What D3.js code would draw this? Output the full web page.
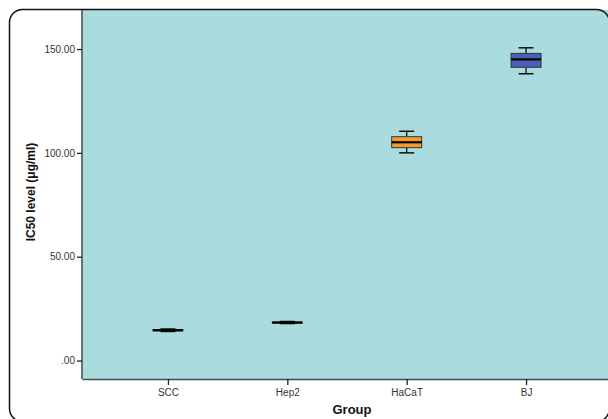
<!DOCTYPE html>
<html>
<head>
<meta charset="utf-8">
<script src="https://cdn.jsdelivr.net/npm/d3@7"></script>
<style>
  body { margin: 0; background: #fff; }
  svg { display: block; font-family: Arial, "Liberation Sans", sans-serif; }
</style>
</head>
<body>
<svg id="chart"></svg>
<script>
const groups = ["SCC", "Hep2", "HaCaT", "BJ"];
const mins = [14.0, 17.8, 100.0, 138.1];
const q1s = [14.3, 18.0, 102.5, 141.2];
const medians = [14.6, 18.3, 105.1, 145.0];
const q3s = [14.9, 18.5, 107.8, 147.9];
const maxs = [15.2, 18.8, 110.4, 150.6];
const boxColors = ["#f4a13a", "#f4a13a", "#f59b2c", "#4a60b4"];
const yTicks = [0, 50, 100, 150];

const w = 608;
const h = 419;
const plotLeft = 82, plotRight = 612, plotTop = 10, plotBottom = 379;

const svg = d3.select("#chart").attr("width", w).attr("height", h);

const xScale = d3.scalePoint().domain(groups).range([plotLeft, plotRight]).padding(0.72);
const yScale = d3.scaleLinear().domain([-8.9, 168.8]).range([plotBottom, plotTop]);

// plot background
svg.append("rect")
  .attr("x", plotLeft).attr("y", plotTop)
  .attr("width", plotRight - plotLeft).attr("height", plotBottom - plotTop)
  .attr("fill", "#aadbde");

// axes
const yAxis = d3.axisLeft(yScale).tickValues(yTicks).tickSize(5).tickFormat((d) => d === 0 ? ".00" : d3.format(".2f")(d));
const xAxis = d3.axisBottom(xScale).tickSize(6).tickSizeOuter(0);

const gy = svg.append("g").attr("transform", `translate(${plotLeft},0)`).call(yAxis);
const gx = svg.append("g").attr("transform", `translate(0,${plotBottom})`).call(xAxis);

[gx, gy].forEach((g) => {
  g.select(".domain").attr("stroke", "#3d4f50").attr("stroke-width", 1.5);
  g.selectAll(".tick line").attr("stroke", "#222").attr("stroke-width", 1.3);
  g.selectAll(".tick text").attr("fill", "#333").attr("font-size", 10).attr("font-family", "Arial, 'Liberation Sans', sans-serif");
});
gy.select(".domain").attr("d", `M0,${plotTop}V${plotBottom}`);
gy.selectAll(".tick text").attr("x", -7);
gx.selectAll(".tick text").attr("y", 10);

// boxplots
const boxW = 30, capW = 15;
const data = groups.map((g, i) => ({ g, min: mins[i], q1: q1s[i], med: medians[i], q3: q3s[i], max: maxs[i], color: boxColors[i] }));

const box = svg.selectAll(".box").data(data).enter().append("g").attr("class", "box");

box.append("line")
  .attr("x1", (d) => xScale(d.g)).attr("x2", (d) => xScale(d.g))
  .attr("y1", (d) => yScale(d.max)).attr("y2", (d) => yScale(d.min))
  .attr("stroke", "#111").attr("stroke-width", 1.3);

box.append("rect")
  .attr("x", (d) => xScale(d.g) - boxW / 2)
  .attr("y", (d) => yScale(d.q3))
  .attr("width", boxW)
  .attr("height", (d) => yScale(d.q1) - yScale(d.q3))
  .attr("fill", (d) => d.color)
  .attr("stroke", "#2b3a3a").attr("stroke-width", 1);

["min", "max"].forEach((k) => {
  box.append("line")
    .attr("x1", (d) => xScale(d.g) - capW / 2).attr("x2", (d) => xScale(d.g) + capW / 2)
    .attr("y1", (d) => yScale(d[k])).attr("y2", (d) => yScale(d[k]))
    .attr("stroke", "#111").attr("stroke-width", 1.5);
});

box.append("line")
  .attr("x1", (d) => xScale(d.g) - boxW / 2).attr("x2", (d) => xScale(d.g) + boxW / 2)
  .attr("y1", (d) => yScale(d.med)).attr("y2", (d) => yScale(d.med))
  .attr("stroke", "#000").attr("stroke-width", 2.2);

// axis titles
svg.append("text")
  .attr("transform", `translate(35,192) rotate(-90)`)
  .attr("text-anchor", "middle")
  .attr("font-size", 12).attr("font-weight", "bold").attr("fill", "#111")
  .text("IC50 level (μg/ml)");

svg.append("text")
  .attr("x", 352).attr("y", 414)
  .attr("text-anchor", "middle")
  .attr("font-size", 13).attr("font-weight", "bold").attr("fill", "#111")
  .text("Group");

// rounded frame, drawn over the plot
svg.append("rect")
  .attr("x", 9.5).attr("y", 9.5)
  .attr("width", 600).attr("height", 412)
  .attr("rx", 13).attr("ry", 13)
  .attr("fill", "none").attr("stroke", "#111").attr("stroke-width", 1.5);
</script>
</body>
</html>
